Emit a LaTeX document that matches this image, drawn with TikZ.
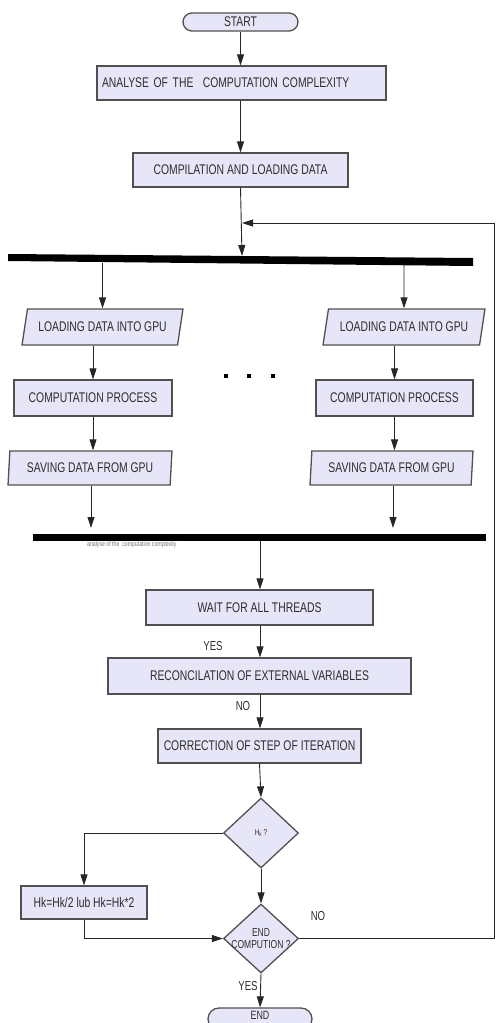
\documentclass[tikz,border=0pt]{standalone}
\usepackage{fontspec}
\setmainfont{Liberation Sans}
\newfontfamily\nar[FakeStretch=0.74]{Liberation Sans}
\usetikzlibrary{arrows.meta,shapes.geometric,shapes.misc}
\definecolor{boxfill}{RGB}{230,230,248}
\definecolor{boxline}{RGB}{80,80,80}
\definecolor{txt}{RGB}{45,45,45}
\tikzset{
  base/.style={draw=boxline,line width=1.3pt,fill=boxfill,text=txt,inner sep=0pt,
     font=\nar\fontsize{14}{16}\selectfont},
  boxnode/.style={base,rectangle},
  term/.style={base,rounded rectangle},
  para/.style={base,trapezium,trapezium stretches=true},
  dia/.style={base,diamond},
  arr/.style={draw=black!85,line width=0.9pt,-{Triangle[length=11pt,width=7pt]}},
  lab/.style={text=txt,font=\nar\fontsize{13}{15}\selectfont,inner sep=0pt},
  dot/.style={fill=black,minimum size=4.5pt,inner sep=0pt,rectangle}
}
\begin{document}
\begin{tikzpicture}[x=1pt,y=-1pt]
\useasboundingbox (0,0) rectangle (496,1023);
\clip (0,0) rectangle (496,1023);
% top
\node[term,minimum width=115pt,minimum height=18pt] (start) at (240.5,22) {START};
\node[boxnode,minimum width=289pt,minimum height=34pt,text width=279pt,align=left] (a1) at (241.5,83) {ANALYSE OF THE\ \ COMPUTATION COMPLEXITY};
\node[boxnode,minimum width=215pt,minimum height=34pt] (a2) at (240.5,170) {COMPILATION AND LOADING DATA};
\coordinate (j) at (242,223);
\coordinate (b1) at (242,256);
\coordinate (re) at (494.5,0);
\draw[arr] (start.south) -- (a1.north -| start.south);
\draw[arr] (a1.south -| a2.north) -- (a2.north);
\draw[arr] (a2.south) -- (b1);
% bar 1
\fill[black] (8,254) -- (473,258) -- (473,266) -- (8,261) -- cycle;
% left column
\coordinate (l0) at (102.5,263);
\node[para,trapezium left angle=65,trapezium right angle=115,minimum width=161pt,minimum height=36pt] (ll) at (102.5,327) {LOADING DATA INTO GPU};
\node[boxnode,minimum width=158pt,minimum height=36pt] (lc) at (93,398) {COMPUTATION PROCESS};
\node[para,trapezium left angle=81.6,trapezium right angle=98.4,minimum width=164pt,minimum height=34pt] (ls) at (90,468) {SAVING DATA FROM GPU};
\coordinate (l9) at (91,528);
\draw[arr] (l0) -- (ll.north);
\draw[arr] (ll.south -| lc.north) -- (lc.north);
\draw[arr] (lc.south) -- (lc.south |- ls.north);
\draw[arr] (ls.south -| l9) -- (l9);
% right column
\coordinate (r0) at (404,263);
\node[para,trapezium left angle=65,trapezium right angle=115,minimum width=162pt,minimum height=36pt] (rl) at (404,327) {LOADING DATA INTO GPU};
\node[boxnode,minimum width=157pt,minimum height=36pt] (rc) at (394.5,398) {COMPUTATION PROCESS};
\node[para,trapezium left angle=81.6,trapezium right angle=98.4,minimum width=163pt,minimum height=34pt] (rs) at (391.5,468) {SAVING DATA FROM GPU};
\coordinate (r9) at (393,528);
\draw[arr] (r0) -- (rl.north);
\draw[arr] (rl.south -| rc.north) -- (rc.north);
\draw[arr] (rc.south) -- (rc.south |- rs.north);
\draw[arr] (rs.south -| r9) -- (r9);
% dots
\node[dot] (p1) at (226,376) {};
\node[dot] (p2) at (249,376) {};
\node[dot] (p3) at (273,376) {};
% bar 2
\fill[black] (33,534) -- (486,534) -- (486,541) -- (33,541) -- cycle;
\node[text=black!55,font=\nar\fontsize{7}{8}\selectfont,anchor=west,inner sep=0pt] (ghost) at (87,545) {analyse of the\ \ computation complexity};
\coordinate (b2) at (260,541);
% lower part
\node[boxnode,minimum width=227pt,minimum height=35pt] (w) at (259.5,607.5) {WAIT FOR ALL THREADS};
\node[boxnode,minimum width=303pt,minimum height=36pt] (r) at (259.5,676) {RECONCILATION OF EXTERNAL VARIABLES};
\node[boxnode,minimum width=203pt,minimum height=34pt] (c) at (259.5,746) {CORRECTION OF STEP OF ITERATION};
\node[dia,minimum width=75pt,minimum height=70pt] (d1) at (261,833) {};
\node[text=txt,font=\nar\fontsize{8.5}{9}\selectfont,inner sep=0pt] (d1t) at (d1) {H\textsubscript{k} ?};
\node[boxnode,minimum width=126pt,minimum height=33pt] (hk) at (84,902.5) {Hk=Hk/2 lub Hk=Hk*2};
\node[dia,minimum width=75pt,minimum height=69pt] (d2) at (261,938.5) {};
\node[text=txt,font=\nar\fontsize{11.5}{12}\selectfont,align=center,inner sep=0pt] (d2t) at (d2) {END\\COMPUTION ?};
\node[term,minimum width=104pt,minimum height=22pt] (end) at (260,1019) {};
\node[text=txt,font=\nar\fontsize{12}{13}\selectfont,inner sep=0pt] (endt) at (260,1015.5) {END};
\draw[arr] (b2) -- (w.north -| b2);
\draw[arr] (w.south -| b2) -- (r.north -| b2);
\draw[arr] (r.south -| b2) -- (c.north -| b2);
\draw[arr] (c.south) -- (d1.north);
\draw[arr] (d1.west) -| (hk.north);
\draw[arr] (hk.south) |- (d2.west);
\draw[arr] (d1.south) -- (d2.north);
\draw[arr] (d2.south) -- (end.north);
\draw[arr] (d2.east) -- (d2.east -| re) -- (re |- j) -- (j);
% labels
\node[lab] (y1) at (213,646) {YES};
\node[lab] (n1) at (243,706) {NO};
\node[lab] (n2) at (318,916) {NO};
\node[lab] (y2) at (248,986) {YES};
\end{tikzpicture}
\end{document}
